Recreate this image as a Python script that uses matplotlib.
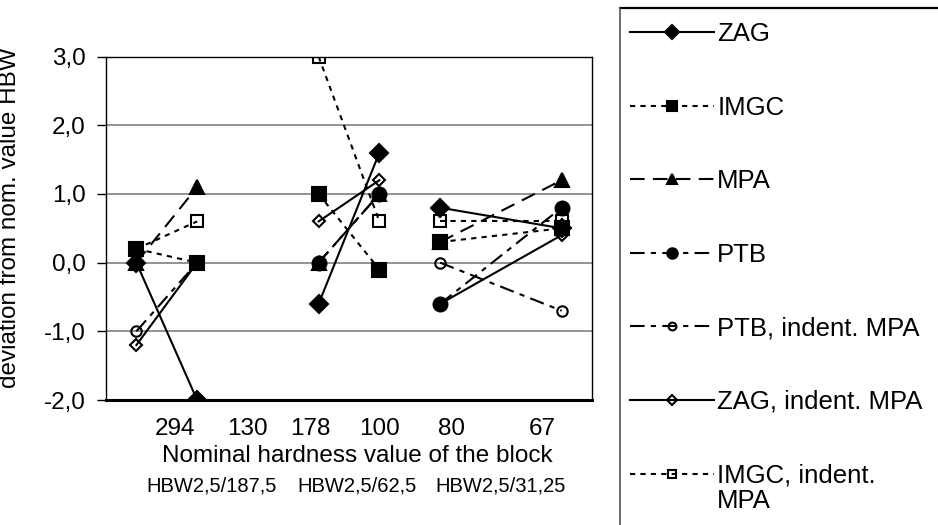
import numpy as np
import matplotlib
matplotlib.use("Agg")
import matplotlib.pyplot as plt
from matplotlib.lines import Line2D

plt.rcParams['font.family'] = ['Liberation Sans', 'DejaVu Sans']

# block groups: each group has two blocks measured (first / second nominal value)
group_x = [[0.5, 1.5], [3.5, 4.5], [5.5, 7.5]]
hardness_labels = ['294', '130', '178', '100', '80', '67']
method_labels = ['HBW2,5/187,5', 'HBW2,5/62,5', 'HBW2,5/31,25']

nan = np.nan
zag = [[0.0, -2.0], [-0.6, 1.6], [0.8, 0.5]]
imgc = [[0.2, 0.0], [1.0, -0.1], [0.3, 0.5]]
mpa = [[0.0, 1.1], [0.0, 1.0], [0.3, 1.2]]
ptb = [[nan, nan], [0.0, 1.0], [-0.6, 0.8]]
ptb_mpa = [[-1.0, 0.0], [nan, nan], [0.0, -0.7]]
zag_mpa = [[-1.2, 0.0], [0.6, 1.2], [-0.6, 0.4]]
imgc_mpa = [[0.2, 0.6], [3.0, 0.6], [0.6, 0.6]]

series = [
    ('ZAG', zag, dict(ls='-', marker='D', ms=9, mfc='black')),
    ('IMGC', imgc, dict(ls=(0, (2.5, 2.5)), marker='s', ms=10, mfc='black')),
    ('MPA', mpa, dict(ls=(0, (7, 4)), marker='^', ms=10, mfc='black')),
    ('PTB', ptb, dict(ls=(0, (7, 3, 2.5, 3)), marker='o', ms=10, mfc='black')),
    ('PTB, indent. MPA', ptb_mpa, dict(ls=(0, (7, 3, 2.5, 3)), marker='o', ms=7.5, mfc='none')),
    ('ZAG, indent. MPA', zag_mpa, dict(ls='-', marker='D', ms=6.5, mfc='none')),
    ('IMGC, indent.', imgc_mpa, dict(ls=(0, (2.5, 2.5)), marker='s', ms=8.5, mfc='none')),
]

W, H = 938, 525
FS = 17.5
fig = plt.figure(figsize=(W / 100, H / 100), dpi=100)
ax = fig.add_axes([106 / W, (H - 400) / H, (592 - 106) / W, (400 - 56.6) / H])

handles = []
for name, vals, st in series:
    for i, (xs, ys) in enumerate(zip(group_x, vals)):
        ln, = ax.plot(xs, ys, color='black', lw=1.5, mec='black', mew=1.5,
                      label=name if i == 0 else None, **st)
        if i == 0:
            handles.append(ln)

ax.set_xlim(0, 8)
ax.set_ylim(-2, 3)
ax.set_yticks([-2, -1, 0, 1, 2, 3])
ax.set_yticklabels(['-2,0', '-1,0', '0,0', '1,0', '2,0', '3,0'])
ax.yaxis.grid(True, color='#808080', lw=1.2)
ax.set_axisbelow(True)
ax.tick_params(axis='y', length=6.5, width=1, pad=8, labelsize=FS)

# hardness labels sit under the blocks, not exactly on the points
tick_pos = [1.14, 2.32, 3.36, 4.51, 5.68, 7.18]
ax.set_xticks(tick_pos)
ax.set_xticklabels(hardness_labels)
ax.tick_params(axis='x', length=0, pad=13, labelsize=FS)

for s in ['top', 'left', 'right']:
    ax.spines[s].set_linewidth(1)
ax.spines['bottom'].set_linewidth(2.2)

ax.set_ylabel('deviation from nom. value HBW', fontsize=FS)
ax.yaxis.set_label_coords(-(106 - 21) / (592 - 106), 0.53)

fig.text(357 / W, 1 - 456 / H, 'Nominal hardness value of the block',
         ha='center', va='center', fontsize=FS)
for xc, lab in zip([212, 357, 501], method_labels):
    fig.text(xc / W, 1 - 486 / H, lab, ha='center', va='center', fontsize=14.5)

# legend box: only its top and left edges fall inside the picture
bx, by = 620 / W, 1 - 8 / H
fig.add_artist(Line2D([bx, 1.05], [by, by], transform=fig.transFigure, color='black', lw=1.6))
fig.add_artist(Line2D([bx, bx], [by, -0.05], transform=fig.transFigure, color='#555555', lw=1.2))

LFS = 18.5
leg = fig.legend(handles=handles, loc='upper left', bbox_to_anchor=(630 / W, 1 - 22 / H),
                 frameon=False, fontsize=LFS, handlelength=3.25, handletextpad=0.15,
                 labelspacing=1.93, borderpad=0, borderaxespad=0, markerscale=0.75)

# second line of the last legend label, kept under its first line
fig.canvas.draw()
bb = leg.get_texts()[-1].get_window_extent()
fig.text(bb.x0 / W, (bb.y0 - 25) / H, 'MPA', fontsize=LFS, ha='left', va='bottom')

fig.savefig('out.png', dpi=100)
